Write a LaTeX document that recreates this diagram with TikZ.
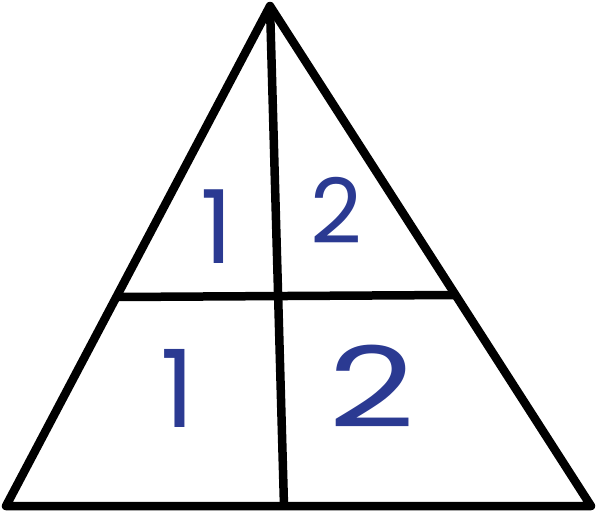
\documentclass[tikz,border=0pt]{standalone}
\usepackage{fontspec}
\setmainfont{Poppins}
\definecolor{digitblue}{RGB}{43,58,146}

\begin{document}
\begin{tikzpicture}
[x=1pt,y=-1pt,line width=8.5pt,line join=round,%
  every node/.style={text=digitblue,inner sep=0pt,anchor=base},%
  edge/.style={draw,black}]
\useasboundingbox (0,0) rectangle (597,514);
\coordinate (top) at (270,6);
\coordinate (bl) at (6,506);
\coordinate (br) at (591,506);
\coordinate (foot) at (284,506);
\coordinate (ml) at (118,297);
\coordinate (mr) at (456,295);
\path[edge] (top) -- (bl) -- (br) -- cycle;
\path[edge] (top) -- (foot);
\path[edge] (ml) -- (mr);
\node (tl) at (217,263) {\fontsize{102}{102}\selectfont 1};
\node (tr) at (336,243) {\fontsize{90}{90}\selectfont 2};
\node (dl) at (178,427) {\fontsize{108}{108}\selectfont 1};
\node[xscale=1.35] (dr) at (372,427) {\fontsize{112}{112}\selectfont 2};
\end{tikzpicture}
\end{document}
